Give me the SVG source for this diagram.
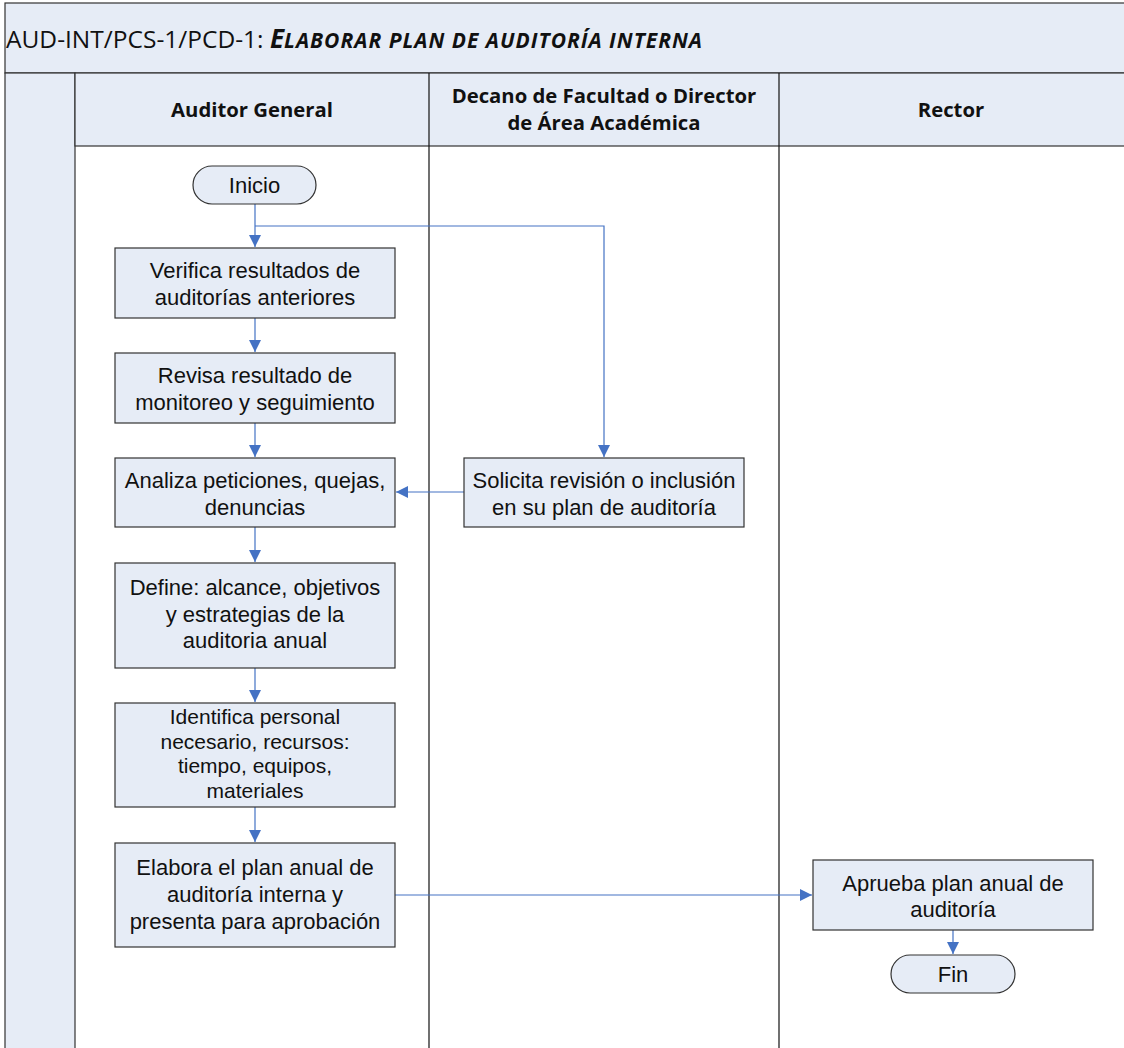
<svg xmlns="http://www.w3.org/2000/svg" width="1124" height="1048" viewBox="0 0 1124 1048">
<defs>
<style>
.band{fill:#E6ECF6;stroke:#333;stroke-width:1.2}
.box{fill:#E6ECF6;stroke:#333;stroke-width:1.2}
.t{font-family:"Liberation Sans",Arial,sans-serif;font-size:22px;fill:#111;text-anchor:middle}
.s{font-size:21px}
.h{font-family:"Open Sans","Liberation Sans",sans-serif;font-size:20.3px;font-weight:bold;fill:#111;text-anchor:middle}
.lane{stroke:#111;stroke-width:1.2;fill:none}
.c{stroke:#4472C4;stroke-width:1.2;fill:none}
</style>
<marker id="ah" viewBox="0 0 10 10" refX="10" refY="5" markerWidth="12" markerHeight="12" markerUnits="userSpaceOnUse" orient="auto">
<path d="M0,0 L10,5 L0,10 z" fill="#4472C4"/>
</marker>
</defs>
<rect width="1124" height="1048" fill="#fff"/>
<g id="pool">
<rect class="band" x="5" y="3" width="1125" height="70"/>
<text x="6" y="48" font-family="Open Sans, Liberation Sans, sans-serif" font-size="24.5" fill="#111">AUD-INT/PCS-1/PCD-1: <tspan font-weight="bold" font-style="italic" font-size="26">E</tspan><tspan font-weight="bold" font-style="italic" font-size="21" letter-spacing="1">LABORAR PLAN DE AUDITORÍA INTERNA</tspan></text>
<rect class="band" x="5" y="73" width="70" height="980"/>
<rect class="band" x="75" y="73" width="1055" height="73"/>
<line class="lane" x1="429" y1="73" x2="429" y2="1048"/>
<line class="lane" x1="779" y1="73" x2="779" y2="1048"/>
<text class="h" x="252" y="117">Auditor General</text>
<text class="h" x="604" y="103">Decano de Facultad o Director</text>
<text class="h" x="604" y="130">de Área Académica</text>
<text class="h" x="951" y="117">Rector</text>
</g>
<g id="connectors">
<line class="c" x1="255" y1="204" x2="255" y2="247" marker-end="url(#ah)"/>
<polyline class="c" points="255,226 604,226 604,457" marker-end="url(#ah)"/>
<line class="c" x1="255" y1="318" x2="255" y2="352" marker-end="url(#ah)"/>
<line class="c" x1="255" y1="423" x2="255" y2="457" marker-end="url(#ah)"/>
<line class="c" x1="464" y1="492" x2="396" y2="492" marker-end="url(#ah)"/>
<line class="c" x1="255" y1="527" x2="255" y2="562" marker-end="url(#ah)"/>
<line class="c" x1="255" y1="668" x2="255" y2="702" marker-end="url(#ah)"/>
<line class="c" x1="255" y1="807" x2="255" y2="842" marker-end="url(#ah)"/>
<line class="c" x1="395" y1="895" x2="812" y2="895" marker-end="url(#ah)"/>
<line class="c" x1="953" y1="930" x2="953" y2="954" marker-end="url(#ah)"/>
</g>
<g id="inicio">
<rect class="box" x="193" y="166" width="123" height="38" rx="19"/>
<text class="t" x="254.5" y="193">Inicio</text>
</g>
<g id="verifica">
<rect class="box" x="115" y="248" width="280" height="70"/>
<text class="t" x="255" y="278">Verifica resultados de</text>
<text class="t" x="255" y="305">auditorías anteriores</text>
</g>
<g id="revisa">
<rect class="box" x="115" y="353" width="280" height="70"/>
<text class="t" x="255" y="383">Revisa resultado de</text>
<text class="t" x="255" y="410">monitoreo y seguimiento</text>
</g>
<g id="analiza">
<rect class="box" x="115" y="458" width="280" height="69"/>
<text class="t" x="255" y="488">Analiza peticiones, quejas,</text>
<text class="t" x="255" y="515">denuncias</text>
</g>
<g id="solicita">
<rect class="box" x="464" y="458" width="280" height="69"/>
<text class="t" x="604" y="488">Solicita revisión o inclusión</text>
<text class="t" x="604" y="515">en su plan de auditoría</text>
</g>
<g id="define">
<rect class="box" x="115" y="563" width="280" height="105"/>
<text class="t" x="255" y="595">Define: alcance, objetivos</text>
<text class="t" x="255" y="622">y estrategias de la</text>
<text class="t" x="255" y="648">auditoria anual</text>
</g>
<g id="identifica">
<rect class="box" x="115" y="703" width="280" height="104"/>
<text class="t s" x="255" y="724">Identifica personal</text>
<text class="t s" x="255" y="748.5">necesario, recursos:</text>
<text class="t s" x="255" y="773">tiempo, equipos,</text>
<text class="t s" x="255" y="797.5">materiales</text>
</g>
<g id="elabora">
<rect class="box" x="115" y="843" width="280" height="104"/>
<text class="t" x="255" y="875">Elabora el plan anual de</text>
<text class="t" x="255" y="902">auditoría interna y</text>
<text class="t" x="255" y="929">presenta para aprobación</text>
</g>
<g id="aprueba">
<rect class="box" x="813" y="860" width="280" height="70"/>
<text class="t" x="953" y="891">Aprueba plan anual de</text>
<text class="t" x="953" y="917">auditoría</text>
</g>
<g id="fin">
<rect class="box" x="891" y="955" width="124" height="38" rx="19"/>
<text class="t" x="953" y="982">Fin</text>
</g>
</svg>
